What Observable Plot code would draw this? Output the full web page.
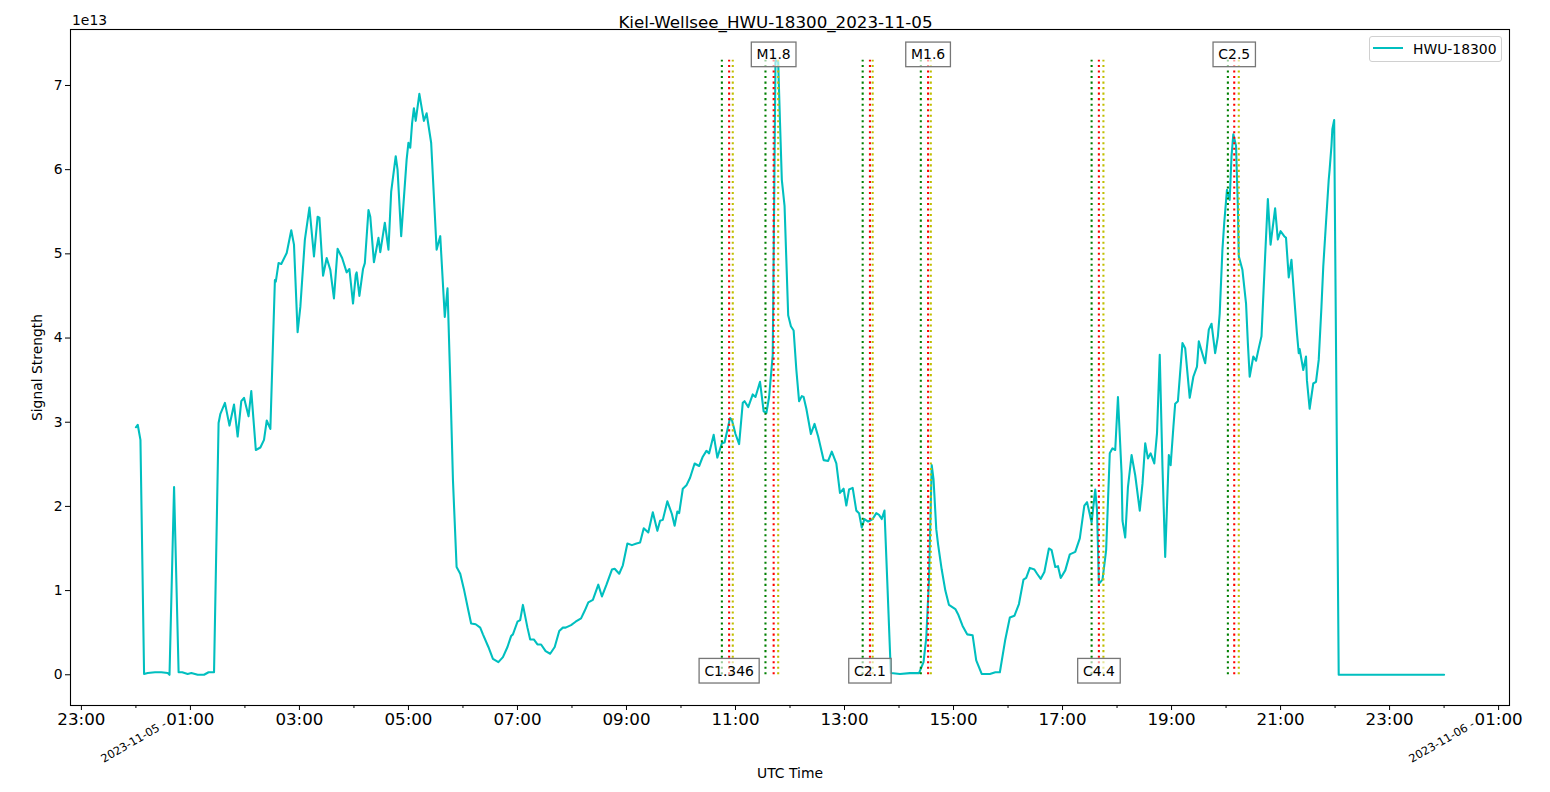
<!DOCTYPE html>
<html>
<head>
<meta charset="utf-8">
<script src="https://cdn.jsdelivr.net/npm/d3@7"></script>
<script src="https://cdn.jsdelivr.net/npm/@observablehq/plot@0.6"></script>
<style>
  body { margin: 0; background: #fff; font-family: "DejaVu Sans", sans-serif; }
  #wrap { position: relative; width: 1550px; height: 792px; }
  #legend { position: absolute; left: 1369px; top: 36px; width: 131px; height: 24px;
    border: 1px solid #d0d0d0; border-radius: 3px; background: rgba(255,255,255,0.8);
    font-family: "DejaVu Sans", sans-serif; font-size: 13.9px; color: #000; }
  #legend .swatch { position: absolute; left: 3px; top: 10px; width: 30px; height: 2px; background: #00bfbf; }
  #legend .lab { position: absolute; left: 43px; top: 2px; line-height: 20px; white-space: nowrap; }
</style>
</head>
<body>
<div id="wrap"></div>
<script>
// ---- Data ----
const titleText = "Kiel-Wellsee_HWU-18300_2023-11-05";
const seriesName = "HWU-18300";
const yOffsetLabel = "1e13";

// minutes after 2023-11-05 00:00 UTC
const minutes = [
  0,2,5,9,13,21,28,35,37,42,
  47,51,57,61,68,75,80,86,91,93,
  98,103,108,112,116,119,124,127,132,137,
  141,144,148,153,154,157,160,166,171,174,
  178,181,186,191,196,200,202,206,210,214,
  218,222,227,232,235,239,242,243,246,250,
  252,256,258,262,267,269,274,278,281,286,
  288,292,298,300,302,304,306,308,312,317,
  320,325,331,335,340,343,346,349,353,357,
  361,366,369,374,379,382,388,393,399,404,
  409,413,415,420,423,426,431,434,438,442,
  446,451,456,461,466,470,473,479,484,490,
  494,498,503,509,513,518,524,527,532,536,
  541,546,551,555,559,564,569,574,577,580,
  585,590,593,596,598,602,606,610,615,620,
  624,628,631,636,640,645,648,654,656,660,
  664,668,670,674,679,682,687,691,694,697,
  701,704,707,709,711,714,718,721,724,727,
  730,733,735,738,743,747,751,757,762,766,
  771,775,779,782,785,789,793,796,799,802,
  806,811,815,818,821,824,827,831,841,852,
  862,867,870,873,876,878,881,883,887,891,
  895,902,905,910,915,921,925,931,940,946,
  951,957,962,967,972,977,980,984,989,992,
  996,1000,1005,1008,1012,1015,1018,1023,1028,1034,
  1039,1044,1047,1052,1056,1058,1060,1064,1068,1072,
  1075,1078,1081,1085,1086,1089,1092,1096,1100,1105,
  1108,1111,1114,1117,1121,1124,1127,1130,1133,1137,
  1139,1142,1144,1147,1152,1155,1160,1164,1168,1170,
  1177,1181,1184,1188,1191,1193,1196,1198,1201,1204,
  1206,1208,1211,1213,1214,1218,1222,1224,1226,1230,
  1233,1236,1239,1243,1246,1249,1254,1257,1260,1264,
  1266,1269,1272,1275,1278,1280,1281,1285,1288,1289,
  1292,1296,1299,1302,1305,1307,1310,1313,1314,1316,
  1317,1319,1324,1350,1380,1410,1440
];
// signal strength in units of 1e13
const signal = [
  2.94,2.97,2.79,0.01,0.02,0.03,0.03,0.02,0.00,2.23,
  0.03,0.03,0.01,0.02,0.00,0.00,0.03,0.03,2.99,3.10,
  3.23,2.96,3.21,2.83,3.25,3.29,3.07,3.37,2.67,2.70,
  2.79,3.02,2.92,4.69,4.67,4.89,4.88,5.01,5.28,5.11,
  4.07,4.37,5.17,5.55,4.97,5.44,5.43,4.74,4.95,4.81,
  4.47,5.06,4.95,4.78,4.82,4.41,4.75,4.78,4.50,4.82,
  4.89,5.52,5.44,4.90,5.19,5.02,5.37,5.05,5.74,6.16,
  6.00,5.21,6.12,6.32,6.26,6.55,6.73,6.58,6.90,6.58,
  6.67,6.32,5.05,5.21,4.25,4.59,3.50,2.31,1.28,1.20,
  1.02,0.76,0.61,0.60,0.56,0.48,0.33,0.19,0.15,0.21,
  0.33,0.46,0.48,0.63,0.65,0.83,0.56,0.42,0.42,0.36,
  0.36,0.28,0.25,0.33,0.52,0.56,0.56,0.59,0.63,0.67,
  0.76,0.86,0.89,1.07,0.93,1.07,1.25,1.26,1.20,1.30,
  1.56,1.54,1.56,1.57,1.74,1.69,1.93,1.71,1.83,1.84,
  2.06,1.91,1.77,1.94,1.92,2.21,2.25,2.34,2.51,2.48,
  2.59,2.66,2.63,2.85,2.58,2.75,2.76,3.05,3.03,2.86,
  2.74,3.23,3.25,3.18,3.33,3.30,3.48,3.13,3.11,3.30,
  3.80,7.30,7.28,6.56,5.88,5.57,4.27,4.14,4.09,3.62,
  3.25,3.31,3.30,3.16,2.86,2.98,2.83,2.55,2.54,2.65,
  2.51,2.16,2.21,2.01,2.20,2.22,1.95,1.92,1.75,1.85,
  1.82,1.85,1.92,1.90,1.85,1.95,1.13,0.02,0.01,0.02,
  0.02,0.15,0.44,1.13,2.49,2.32,1.73,1.55,1.25,1.00,
  0.83,0.78,0.72,0.58,0.48,0.47,0.17,0.01,0.01,0.03,
  0.03,0.42,0.68,0.70,0.84,1.13,1.15,1.27,1.25,1.20,
  1.14,1.22,1.50,1.48,1.28,1.29,1.15,1.24,1.43,1.46,
  1.62,2.01,2.05,1.81,2.20,1.95,1.08,1.13,1.48,2.63,
  2.69,2.67,3.30,2.39,1.83,1.63,2.23,2.61,2.37,1.95,
  2.27,2.75,2.57,2.63,2.51,2.87,3.80,2.47,1.40,2.61,
  2.49,2.94,3.22,3.25,3.94,3.88,3.29,3.54,3.66,3.96,
  3.70,4.10,4.17,3.82,4.02,4.29,5.05,5.37,5.76,5.64,
  6.16,6.42,6.28,5.56,4.97,4.81,4.41,3.94,3.54,3.78,
  3.73,3.88,4.02,4.97,5.65,5.11,5.54,5.17,5.27,5.21,
  5.19,4.72,4.93,4.49,4.06,3.82,3.87,3.62,3.78,3.50,
  3.16,3.46,3.48,3.74,4.37,4.85,5.37,5.88,6.00,6.28,
  6.48,6.59,0.00,0.00,0.00,0.00,0.00
];

// flare events (UTC)
const flareClasses = ["C1.346", "M1.8", "C2.1", "M1.6", "C4.4", "C2.5"];
const flareStart   = ["10:45", "11:33", "13:20", "14:24", "17:32", "20:02"];
const flarePeak    = ["10:53", "11:42", "13:28", "14:32", "17:40", "20:09"];
const flareEnd     = ["10:57", "11:47", "13:31", "14:35", "17:45", "20:14"];

// x ticks (minutes after 2023-11-05 00:00)
const majorTicks = [-60, 60, 180, 300, 420, 540, 660, 780, 900, 1020, 1140, 1260, 1380, 1500];
const majorTickLabels = ["23:00","01:00","03:00","05:00","07:00","09:00","11:00","13:00","15:00","17:00","19:00","21:00","23:00","01:00"];
const minorTicks = [0, 120, 240, 360, 480, 600, 720, 840, 960, 1080, 1200, 1320, 1440];
const dateTicks = [0, 1440];
const dateTickLabels = ["2023-11-05 -", "2023-11-06 -"];
const yTicks = [0, 1, 2, 3, 4, 5, 6, 7];

// ---- Build ----
const toMin = s => { const [h, m] = s.split(":").map(Number); return h * 60 + m; };
const series = minutes.map((t, i) => ({t, v: signal[i]}));
const yMax = d3.max(signal), yMin = d3.min(signal);
const xMin = d3.min(minutes), xMax = d3.max(minutes);
const xPad = (xMax - xMin) * 0.05, yPad = (yMax - yMin) * 0.05;

const rules = [];
flareClasses.forEach((name, i) => {
  rules.push({t: toMin(flareStart[i]), c: "#008000"});
  rules.push({t: toMin(flarePeak[i]), c: "#ff0000"});
  rules.push({t: toMin(flareEnd[i]), c: "#bfbf00"});
});
const labels = flareClasses.map((name, i) => ({name, t: toMin(flarePeak[i]), top: i % 2 === 1}));
const majorLabelMap = new Map(majorTicks.map((t, i) => [t, majorTickLabels[i]]));
const dates = dateTicks.map((t, i) => ({t, s: dateTickLabels[i]}));

const chart = Plot.plot({
  width: 1550, height: 792,
  marginLeft: 70, marginRight: 41, marginTop: 29, marginBottom: 87,
  style: {fontFamily: "DejaVu Sans, sans-serif", fontSize: "13.9px", color: "#000", background: "#fff"},
  x: {type: "linear", domain: [xMin - xPad, xMax + xPad]},
  y: {domain: [yMin - yPad, yMax + yPad]},
  marks: [
    Plot.line(series, {x: "t", y: "v", stroke: "#00bfbf", strokeWidth: 2.08}),
    Plot.ruleX(rules, {x: "t", y1: 0, y2: yMax, stroke: "c", strokeWidth: 2.08, strokeDasharray: "2.08,3.44"}),
    Plot.text(labels.filter(d => d.top), {x: "t", y: yMax, dy: -5.3, text: "name", fontSize: 13.9, fill: "#000", lineAnchor: "middle"}),
    Plot.text(labels.filter(d => !d.top), {x: "t", y: 0, dy: -3.5, text: "name", fontSize: 13.9, fill: "#000", lineAnchor: "middle"}),
    Plot.frame({stroke: "#000", strokeWidth: 1.1}),
    Plot.axisX({ticks: majorTicks, tickFormat: d => majorLabelMap.get(d), tickSize: 5, tickPadding: 3, fontSize: 16.7, label: null}),
    Plot.axisX({ticks: minorTicks, tickFormat: () => "", tickSize: 3, label: null}),
    Plot.text(dates, {x: "t", frameAnchor: "bottom", lineAnchor: "middle", textAnchor: "middle", text: "s", rotate: -30, dy: 36, dx: -2.3, fontSize: 11.3, fill: "#000"}),
    Plot.axisY({ticks: yTicks, tickFormat: d => String(d), tickSize: 5, tickPadding: 3, label: null}),
    Plot.text([yOffsetLabel], {frameAnchor: "top-left", textAnchor: "start", lineAnchor: "middle", dx: 1.5, dy: -8.5, text: d => d, fontSize: 13.9, fill: "#000"}),
    Plot.text(["Signal Strength"], {frameAnchor: "left", textAnchor: "middle", lineAnchor: "middle", rotate: -90, dx: -32.5, text: d => d, fontSize: 13.9, fill: "#000"}),
    Plot.text(["UTC Time"], {frameAnchor: "bottom", textAnchor: "middle", lineAnchor: "middle", dy: 68, text: d => d, fontSize: 13.9, fill: "#000"}),
    Plot.text([titleText], {frameAnchor: "top", textAnchor: "middle", lineAnchor: "middle", dx: -14.5, dy: -6.5, text: d => d, fontSize: 16.7, fill: "#000"})
  ]
});

const wrap = document.getElementById("wrap");
wrap.append(chart);

// label boxes around flare class labels
const flareSet = new Set(flareClasses);
Array.from(chart.querySelectorAll("text")).filter(t => flareSet.has(t.textContent)).forEach(t => {
  const bb = t.getBBox();
  const padX = 5.3, padY = 4.6;
  const r = document.createElementNS("http://www.w3.org/2000/svg", "rect");
  r.setAttribute("x", bb.x - padX);
  r.setAttribute("y", bb.y - padY + 0.3);
  r.setAttribute("width", bb.width + 2 * padX);
  r.setAttribute("height", bb.height + 2 * padY - 0.6);
  const tr = t.getAttribute("transform");
  if (tr) r.setAttribute("transform", tr);
  r.setAttribute("fill", "#fff");
  r.setAttribute("fill-opacity", "0.6");
  r.setAttribute("stroke", "#777");
  r.setAttribute("stroke-width", "1.3");
  t.parentNode.insertBefore(r, t);
});

// legend
const legend = document.createElement("div");
legend.id = "legend";
legend.innerHTML = '<span class="swatch"></span><span class="lab"></span>';
legend.querySelector(".lab").textContent = seriesName;
wrap.append(legend);
</script>
</body>
</html>
